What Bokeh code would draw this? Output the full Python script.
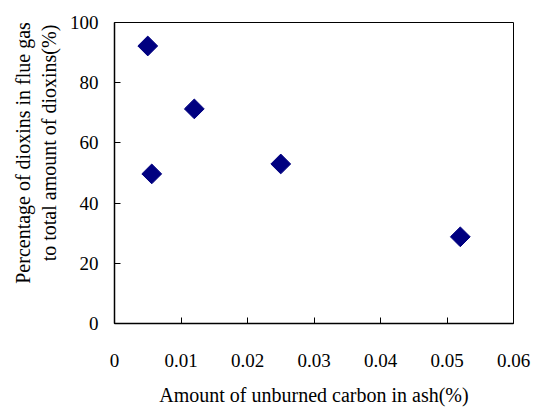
import math
from bokeh.plotting import figure
from bokeh.embed import file_html
from bokeh.resources import INLINE
from bokeh.models import FixedTicker, Range1d

carbon = [0.005, 0.012, 0.0056, 0.025, 0.052]
percent = [92.2, 71.3, 49.7, 53.0, 28.8]
x_ticks = [0, 0.01, 0.02, 0.03, 0.04, 0.05, 0.06]
x_tick_labels = ["0", "0.01", "0.02", "0.03", "0.04", "0.05", "0.06"]
y_ticks = [0, 20, 40, 60, 80, 100]
y_tick_labels = ["0", "20", "40", "60", "80", "100"]
x_title = "Amount of unburned carbon in ash(%)"
y_title_lines = ["Percentage of dioxins in flue gas", "to total amount of dioxins(%)"]

FONT = "Liberation Serif"
NBSP = "\u00a0"

p = figure(width=534, height=408, output_backend="svg", toolbar_location=None,
           x_range=Range1d(0, 0.06), y_range=Range1d(0, 100),
           min_border_left=114, min_border_right=21, min_border_top=22, min_border_bottom=83)
p.scatter(carbon, percent, marker="square", angle=math.pi / 4, size=14,
          fill_color="#000080", line_color="#000080")

p.xgrid.visible = False
p.ygrid.visible = False
p.outline_line_color = "black"
p.outline_line_width = 1
p.background_fill_color = "white"
p.border_fill_color = "white"

p.xaxis.ticker = FixedTicker(ticks=x_ticks)
p.xaxis.major_label_overrides = {t: l for t, l in zip(x_ticks, x_tick_labels)}
p.yaxis.ticker = FixedTicker(ticks=y_ticks)
p.yaxis.major_label_overrides = {t: l for t, l in zip(y_ticks, y_tick_labels)}

for ax in (p.xaxis, p.yaxis):
    ax.major_tick_in = 6
    ax.major_tick_out = 0
    ax.minor_tick_line_color = None
    ax.axis_line_color = "black"
    ax.axis_line_width = 1.5
    ax.major_tick_line_color = "black"
    ax.major_label_text_font = FONT
    ax.major_label_text_font_size = "19px"
    ax.major_label_text_color = "black"
    ax.axis_label_text_font = FONT
    ax.axis_label_text_font_size = "20px"
    ax.axis_label_text_font_style = "normal"
    ax.axis_label_text_color = "black"

p.xaxis.axis_label = x_title
p.xaxis.major_label_standoff = 30
p.xaxis.axis_label_standoff = 14

# y title sits a little above the frame's centre in the reference: pad the start of each line
p.yaxis.axis_label = (NBSP * 8 + y_title_lines[0]) + "\n" + (NBSP * 12 + y_title_lines[1])
p.yaxis.major_label_standoff = 16
p.yaxis.axis_label_standoff = 7

open("out.html", "w").write(file_html(p, INLINE))
